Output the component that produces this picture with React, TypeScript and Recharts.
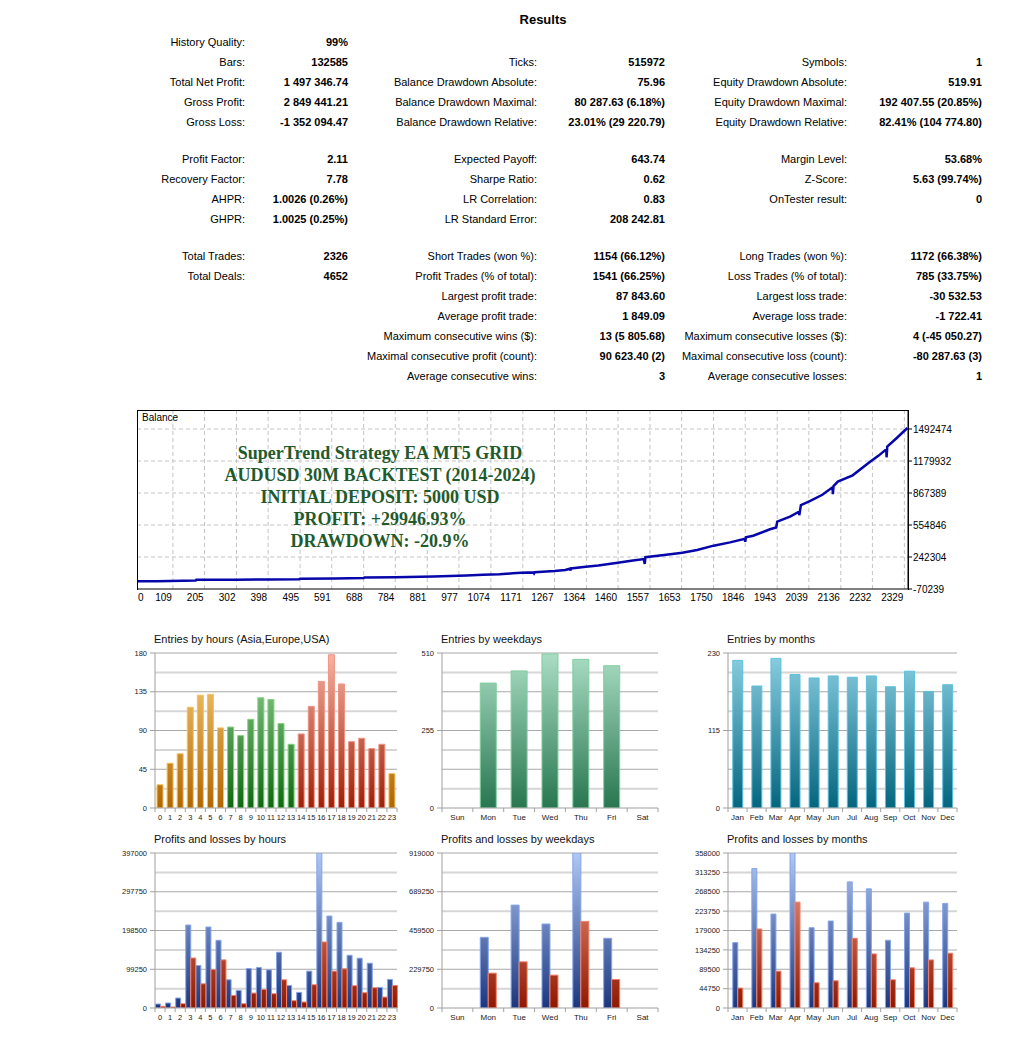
import React from 'react';
import { LineChart, Line, BarChart, Bar, Cell, XAxis, YAxis, CartesianGrid } from 'recharts';

const SANS = '"Liberation Sans", Arial, sans-serif';

// ---------- report table ----------
type Stat = [string, string] | null;

const reportCol1: Stat[] = [
  ['History Quality:', '99%'],
  ['Bars:', '132585'],
  ['Total Net Profit:', '1 497 346.74'],
  ['Gross Profit:', '2 849 441.21'],
  ['Gross Loss:', '-1 352 094.47'],
  ['Profit Factor:', '2.11'],
  ['Recovery Factor:', '7.78'],
  ['AHPR:', '1.0026 (0.26%)'],
  ['GHPR:', '1.0025 (0.25%)'],
  ['Total Trades:', '2326'],
  ['Total Deals:', '4652'],
  null, null, null, null, null,
];

const reportCol2: Stat[] = [
  null,
  ['Ticks:', '515972'],
  ['Balance Drawdown Absolute:', '75.96'],
  ['Balance Drawdown Maximal:', '80 287.63 (6.18%)'],
  ['Balance Drawdown Relative:', '23.01% (29 220.79)'],
  ['Expected Payoff:', '643.74'],
  ['Sharpe Ratio:', '0.62'],
  ['LR Correlation:', '0.83'],
  ['LR Standard Error:', '208 242.81'],
  ['Short Trades (won %):', '1154 (66.12%)'],
  ['Profit Trades (% of total):', '1541 (66.25%)'],
  ['Largest profit trade:', '87 843.60'],
  ['Average profit trade:', '1 849.09'],
  ['Maximum consecutive wins ($):', '13 (5 805.68)'],
  ['Maximal consecutive profit (count):', '90 623.40 (2)'],
  ['Average consecutive wins:', '3'],
];

const reportCol3: Stat[] = [
  null,
  ['Symbols:', '1'],
  ['Equity Drawdown Absolute:', '519.91'],
  ['Equity Drawdown Maximal:', '192 407.55 (20.85%)'],
  ['Equity Drawdown Relative:', '82.41% (104 774.80)'],
  ['Margin Level:', '53.68%'],
  ['Z-Score:', '5.63 (99.74%)'],
  ['OnTester result:', '0'],
  null,
  ['Long Trades (won %):', '1172 (66.38%)'],
  ['Loss Trades (% of total):', '785 (33.75%)'],
  ['Largest loss trade:', '-30 532.53'],
  ['Average loss trade:', '-1 722.41'],
  ['Maximum consecutive losses ($):', '4 (-45 050.27)'],
  ['Maximal consecutive loss (count):', '-80 287.63 (3)'],
  ['Average consecutive losses:', '1'],
];

// ---------- balance curve ----------
const balanceTrades = [
  0, 60, 178, 180, 300, 400, 492, 495, 600, 688, 690, 784, 900, 1000, 1050, 1100, 1140, 1166,
  1203, 1205, 1207, 1267, 1300, 1314, 1315, 1317, 1362, 1400, 1459, 1500, 1538, 1541, 1543,
  1600, 1655, 1700, 1750, 1800, 1845, 1846, 1848, 1870, 1921, 1940, 1943, 1982, 2009, 2010,
  2015, 2042, 2080, 2111, 2112, 2114, 2127, 2172, 2223, 2250, 2274, 2275, 2277, 2305, 2338,
];
const balanceValues = [
  5000, 6000, 12000, 19000, 21000, 23000, 25000, 31000, 33000, 36000, 42000, 45000, 52000, 62000,
  68000, 74000, 83000, 89000, 92000, 82000, 93000, 105000, 115000, 128000, 110000, 130000, 148000,
  160000, 187000, 205000, 222000, 175000, 240000, 262000, 284000, 310000, 353000, 385000, 420000,
  390000, 435000, 450000, 513000, 530000, 587000, 636000, 685000, 650000, 750000, 789000, 850000,
  923000, 855000, 935000, 978000, 1040000, 1167000, 1230000, 1294000, 1216000, 1320000, 1402000,
  1502347,
];
const balanceXTicks = [
  0, 109, 205, 302, 398, 495, 591, 688, 784, 881, 977, 1074, 1171, 1267, 1364, 1460, 1557, 1653,
  1750, 1846, 1943, 2039, 2136, 2232, 2329,
];
const balanceYTicks = [-70239, 242304, 554846, 867389, 1179932, 1492474];
const balanceYMax = 1678047;

const overlayLines = [
  'SuperTrend Strategy EA MT5 GRID',
  'AUDUSD 30M BACKTEST (2014-2024)',
  'INITIAL DEPOSIT: 5000 USD',
  'PROFIT: +29946.93%',
  'DRAWDOWN: -20.9%',
];

// ---------- entries ----------
const hourLabels = ['0', '1', '2', '3', '4', '5', '6', '7', '8', '9', '10', '11', '12', '13', '14', '15', '16', '17', '18', '19', '20', '21', '22', '23'];
const hourEntries = [27, 52, 63, 117, 131, 132, 93, 94, 84, 103, 128, 126, 98, 74, 86, 118, 147, 178, 144, 77, 81, 69, 74, 40];
const hourSession = [
  'asia', 'asia', 'asia', 'asia', 'asia', 'asia', 'asia',
  'europe', 'europe', 'europe', 'europe', 'europe', 'europe', 'europe',
  'usa', 'usa', 'usa', 'usa', 'usa', 'usa', 'usa', 'usa', 'usa',
  'asia',
];
const hourYTicks = [0, 45, 90, 135, 180];

const weekdayLabels = ['Sun', 'Mon', 'Tue', 'Wed', 'Thu', 'Fri', 'Sat'];
const weekdayEntries = [0, 411, 451, 507, 489, 468, 0];
const weekdayYTicks = [0, 255, 510];

const monthLabels = ['Jan', 'Feb', 'Mar', 'Apr', 'May', 'Jun', 'Jul', 'Aug', 'Sep', 'Oct', 'Nov', 'Dec'];
const monthEntries = [219, 181, 222, 198, 193, 196, 194, 196, 180, 203, 173, 183];
const monthYTicks = [0, 115, 230];

// ---------- profits / losses ----------
const hourProfits = [10200, 12750, 25500, 212500, 108800, 207400, 173400, 72250, 45000, 101000, 103700, 97750, 142800, 57800, 40000, 94350, 397000, 235500, 219300, 135000, 127500, 114750, 52700, 73100];
const hourLosses = [4250, 2550, 11000, 128000, 62000, 98600, 123250, 32300, 11000, 38250, 47600, 36550, 72250, 18700, 15300, 59500, 169000, 94350, 100300, 57000, 39100, 51850, 28000, 57800];
const plHourYTicks = [0, 99250, 198500, 297750, 397000];

const weekdayProfits = [0, 419200, 610000, 498000, 919000, 413300, 0];
const weekdayLosses = [0, 206600, 273500, 194800, 513600, 169200, 0];
const plWeekdayYTicks = [0, 229750, 459500, 689250, 919000];

const monthProfits = [151000, 322000, 217000, 358000, 185500, 200800, 291300, 275200, 156400, 219200, 244500, 241500];
const monthLosses = [46000, 182500, 85100, 244500, 58300, 62900, 161000, 125000, 65200, 92800, 111100, 126500];
const plMonthYTicks = [0, 44750, 89500, 134250, 179000, 223750, 268500, 313250, 358000];

// ---------- styling ----------
const PLOT_H = 155;
const TOP_M = 25;

const gradients = [
  { id: 'gAsia', top: '#fdd27c', bottom: '#b06600' },
  { id: 'gEurope', top: '#9ad89a', bottom: '#0f680f' },
  { id: 'gUsa', top: '#f6b4a4', bottom: '#9c2008' },
  { id: 'gWeek', top: '#aadec4', bottom: '#287650' },
  { id: 'gMonth', top: '#8ccfe2', bottom: '#04657e' },
  { id: 'gProfit', top: '#b0c8f4', bottom: '#1c367e' },
  { id: 'gLoss', top: '#f8a490', bottom: '#8e1800' },
];
const sessionFill: Record<string, string> = { asia: 'url(#gAsia)', europe: 'url(#gEurope)', usa: 'url(#gUsa)' };
const sessionStroke: Record<string, string> = { asia: '#f6c060', europe: '#7fd07f', usa: '#f29282' };

function CatTick(props: any) {
  const { x, y, payload, index, bw, n, fs } = props;
  return (
    <g>
      <line x1={x - bw / 2} x2={x - bw / 2} y1={y} y2={y + 4} stroke="#a0a0a0" />
      {index === n - 1 && <line x1={x + bw / 2} x2={x + bw / 2} y1={y} y2={y + 4} stroke="#a0a0a0" />}
      <text x={x} y={y + 12} textAnchor="middle" fontSize={fs} fill="#222" fontFamily={SANS}>
        {payload.value}
      </text>
    </g>
  );
}

type Series = { key: string; values: number[]; fill: string; stroke: string; cellFills?: string[]; cellStrokes?: string[] };

function BarPanel(props: {
  title: string;
  cats: string[];
  series: Series[];
  yTicks: number[];
  left: number;
  top: number;
  plotW: number;
  gap: string;
  xFont: number;
}) {
  const { title, cats, series, yTicks, left, top, plotW, gap, xFont } = props;
  const max = yTicks[yTicks.length - 1];
  const dark = [1, 2, 3, 4].map((k) => (max * k) / 4);
  const light = [1, 3, 5, 7].map((k) => (max * k) / 8);
  const data = cats.map((c, i) => {
    const row: any = { c };
    series.forEach((s) => (row[s.key] = s.values[i]));
    return row;
  });
  const bw = plotW / cats.length;
  return (
    <>
      <div style={{ position: 'absolute', left: left - 1, top: top - 20, fontSize: 11, fontFamily: SANS, color: '#111', whiteSpace: 'nowrap' }}>
        {title}
      </div>
      <div style={{ position: 'absolute', left: left - 50, top: top - TOP_M }}>
        <BarChart
          width={plotW + 60}
          height={TOP_M + PLOT_H + 20}
          data={data}
          margin={{ top: TOP_M, right: 10, bottom: 6, left: 0 }}
          barCategoryGap={gap}
          barGap={0}
        >
          <CartesianGrid vertical={false} horizontalValues={light} stroke="#d6d6d6" strokeWidth={2} />
          <CartesianGrid vertical={false} horizontalValues={dark} stroke="#a8a8a8" />
          <XAxis
            dataKey="c"
            height={14}
            interval={0}
            tickSize={0}
            tickMargin={0}
            tickLine={false}
            axisLine={{ stroke: '#a0a0a0' }}
            tick={<CatTick bw={bw} n={cats.length} fs={xFont} />}
          />
          <YAxis
            width={50}
            type="number"
            domain={[0, max]}
            ticks={yTicks}
            interval={0}
            allowDataOverflow
            tickSize={5}
            tickMargin={3}
            axisLine={{ stroke: '#a0a0a0' }}
            tickLine={{ stroke: '#a0a0a0' }}
            tick={{ fontSize: 7.5, fill: '#222', fontFamily: SANS }}
          />
          {series.map((s) => (
            <Bar key={s.key} dataKey={s.key} fill={s.fill} stroke={s.stroke} strokeWidth={1} isAnimationActive={false}>
              {s.cellFills &&
                s.cellFills.map((f, i) => <Cell key={i} fill={f} stroke={s.cellStrokes ? s.cellStrokes[i] : s.stroke} />)}
            </Bar>
          ))}
        </BarChart>
      </div>
    </>
  );
}

function BalanceXTick(props: any) {
  const { x, y, payload } = props;
  const first = payload.value === 0;
  return (
    <text x={first ? x + 1 : x - 1} y={y + 12} textAnchor={first ? 'start' : 'end'} fontSize={10} fill="#000" fontFamily={SANS}>
      {payload.value}
    </text>
  );
}

function BalanceChart() {
  const data = balanceTrades.map((t, i) => ({ t, v: balanceValues[i] }));
  return (
    <>
      <div style={{ position: 'absolute', left: 0, top: 400 }}>
        <LineChart width={1034} height={215} data={data} margin={{ top: 10, right: 66, bottom: 6, left: 137 }}>
          <CartesianGrid
            stroke="#c4c4c4"
            strokeDasharray="4 3"
            horizontalValues={balanceYTicks.slice(1)}
            verticalValues={balanceXTicks.slice(1)}
          />
          <XAxis
            type="number"
            dataKey="t"
            domain={[0, 2340]}
            ticks={balanceXTicks}
            interval={0}
            height={20}
            tickSize={0}
            tickMargin={0}
            tickLine={false}
            axisLine={{ stroke: '#000' }}
            tick={<BalanceXTick />}
          />
          <YAxis
            orientation="right"
            type="number"
            domain={[-70239, balanceYMax]}
            ticks={balanceYTicks}
            interval={0}
            allowDataOverflow
            width={60}
            tickSize={4}
            tickMargin={1}
            axisLine={{ stroke: '#000' }}
            tickLine={{ stroke: '#000' }}
            tick={{ fontSize: 10, fill: '#000', fontFamily: SANS }}
          />
          <Line type="linear" dataKey="v" stroke="#0606aa" strokeWidth={2.5} dot={false} isAnimationActive={false} />
        </LineChart>
      </div>
      <div style={{ position: 'absolute', left: 137, top: 410, width: 770, height: 179, borderTop: '1px solid #000', borderLeft: '1px solid #000', borderRight: '1px solid #000', pointerEvents: 'none' }} />
      <div style={{ position: 'absolute', left: 142, top: 412, fontSize: 10, fontFamily: SANS, color: '#000' }}>Balance</div>
      <div
        style={{
          position: 'absolute',
          left: 180,
          top: 442,
          width: 400,
          textAlign: 'center',
          fontFamily: '"Liberation Serif", serif',
          fontWeight: 'bold',
          fontSize: 18,
          lineHeight: '22px',
          color: '#1f5a2c',
        }}
      >
        {overlayLines.map((l) => (
          <div key={l}>{l}</div>
        ))}
      </div>
    </>
  );
}

const rowY = [42, 62, 82, 102, 122, 159, 179, 199, 219, 256, 276, 296, 316, 336, 356, 376];
const labelRight = [245, 537, 847];
const valueRight = [348, 665, 982];

function Report() {
  const cols = [reportCol1, reportCol2, reportCol3];
  const cell = (text: string, right: number, y: number, bold: boolean, key: string) => (
    <div
      key={key}
      style={{
        position: 'absolute',
        right: 1034 - right,
        top: y - 7,
        fontSize: 11,
        lineHeight: '14px',
        fontFamily: SANS,
        fontWeight: bold ? 'bold' : 'normal',
        color: '#000',
        whiteSpace: 'nowrap',
      }}
    >
      {text}
    </div>
  );
  return (
    <>
      <div style={{ position: 'absolute', left: 443, width: 200, top: 12, textAlign: 'center', fontSize: 13, fontWeight: 'bold', fontFamily: SANS }}>
        Results
      </div>
      {cols.map((col, c) =>
        col.map((s, r) =>
          s ? [cell(s[0], labelRight[c], rowY[r], false, `l${c}-${r}`), cell(s[1], valueRight[c], rowY[r], true, `v${c}-${r}`)] : null
        )
      )}
    </>
  );
}

export default function App() {
  return (
    <div style={{ position: 'absolute', left: 0, top: 0, width: 1034, height: 1046, background: '#fff', overflow: 'hidden' }}>
      <svg width={0} height={0} style={{ position: 'absolute' }}>
        <defs>
          {gradients.map((g) => (
            <linearGradient key={g.id} id={g.id} gradientUnits="userSpaceOnUse" x1={0} y1={TOP_M} x2={0} y2={TOP_M + PLOT_H}>
              <stop offset="0" stopColor={g.top} />
              <stop offset="1" stopColor={g.bottom} />
            </linearGradient>
          ))}
        </defs>
      </svg>
      <Report />
      <BalanceChart />
      <BarPanel
        title="Entries by hours (Asia,Europe,USA)"
        cats={hourLabels}
        series={[
          {
            key: 'entries',
            values: hourEntries,
            fill: 'url(#gAsia)',
            stroke: '#f6c060',
            cellFills: hourSession.map((s) => sessionFill[s]),
            cellStrokes: hourSession.map((s) => sessionStroke[s]),
          },
        ]}
        yTicks={hourYTicks}
        left={155}
        top={653}
        plotW={242}
        gap="20%"
        xFont={7.5}
      />
      <BarPanel
        title="Entries by weekdays"
        cats={weekdayLabels}
        series={[{ key: 'entries', values: weekdayEntries, fill: 'url(#gWeek)', stroke: '#7fcf9f' }]}
        yTicks={weekdayYTicks}
        left={442}
        top={653}
        plotW={216}
        gap="24%"
        xFont={8}
      />
      <BarPanel
        title="Entries by months"
        cats={monthLabels}
        series={[{ key: 'entries', values: monthEntries, fill: 'url(#gMonth)', stroke: '#5cc2de' }]}
        yTicks={monthYTicks}
        left={728}
        top={653}
        plotW={229}
        gap="25%"
        xFont={8}
      />
      <BarPanel
        title="Profits and losses by hours"
        cats={hourLabels}
        series={[
          { key: 'profit', values: hourProfits, fill: 'url(#gProfit)', stroke: '#84a4ea' },
          { key: 'loss', values: hourLosses, fill: 'url(#gLoss)', stroke: '#f28068' },
        ]}
        yTicks={plHourYTicks}
        left={155}
        top={853}
        plotW={242}
        gap="5%"
        xFont={7.5}
      />
      <BarPanel
        title="Profits and losses by weekdays"
        cats={weekdayLabels}
        series={[
          { key: 'profit', values: weekdayProfits, fill: 'url(#gProfit)', stroke: '#84a4ea' },
          { key: 'loss', values: weekdayLosses, fill: 'url(#gLoss)', stroke: '#f28068' },
        ]}
        yTicks={plWeekdayYTicks}
        left={442}
        top={853}
        plotW={216}
        gap="24%"
        xFont={8}
      />
      <BarPanel
        title="Profits and losses by months"
        cats={monthLabels}
        series={[
          { key: 'profit', values: monthProfits, fill: 'url(#gProfit)', stroke: '#84a4ea' },
          { key: 'loss', values: monthLosses, fill: 'url(#gLoss)', stroke: '#f28068' },
        ]}
        yTicks={plMonthYTicks}
        left={728}
        top={853}
        plotW={229}
        gap="25%"
        xFont={8}
      />
    </div>
  );
}
